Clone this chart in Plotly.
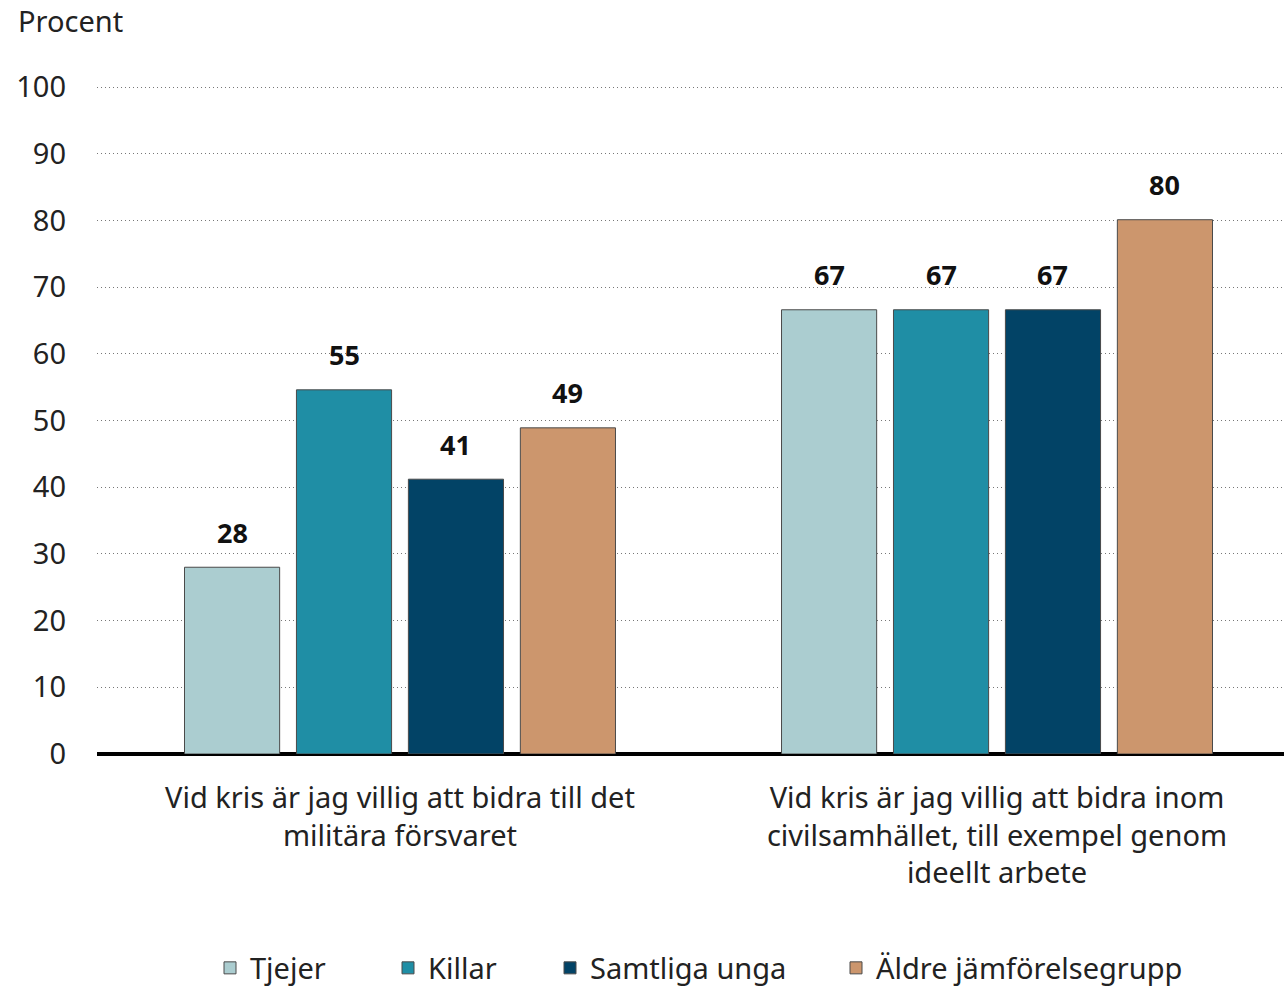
import plotly.graph_objects as go

categories = [
    "Vid kris är jag villig att bidra till det<br>militära försvaret",
    "Vid kris är jag villig att bidra inom<br>civilsamhället, till exempel genom<br>ideellt arbete",
]
series_names = ["Tjejer", "Killar", "Samtliga unga", "Äldre jämförelsegrupp"]
tjejer = [28.0, 66.6]
killar = [54.6, 66.6]
samtliga = [41.2, 66.6]
aldre = [48.9, 80.1]
values = [tjejer, killar, samtliga, aldre]
colors = ["#ABCDD0", "#1F8EA5", "#024366", "#CC966D"]
y_ticks = [0, 10, 20, 30, 40, 50, 60, 70, 80, 90, 100]

FONT = "Noto Sans, Open Sans, sans-serif"
FS = 29

W, H = 1284, 987
L, R, T, B = 97, 0, 85, 233
BARGAP, GROUPGAP = 0.25, 0.15
X_RANGE = [-0.5075, 1.4807]
plot_w = W - L - R
cat_px = plot_w / (X_RANGE[1] - X_RANGE[0])
slot_px = cat_px * (1 - BARGAP) / len(series_names)

legend_ids = ["legend", "legend2", "legend3", "legend4"]
legend_left = [210, 388, 550, 836]

fig = go.Figure()
for i, (name, vals, col) in enumerate(zip(series_names, values, colors)):
    fig.add_trace(go.Bar(
        name=name,
        x=categories,
        y=vals,
        legend=legend_ids[i],
        marker=dict(color=col, line=dict(color="#4a4a4a", width=1)),
        hoverinfo="name+y",
    ))
    for j, v in enumerate(vals):
        fig.add_annotation(
            x=categories[j], y=v, xref="x", yref="y",
            text=f"<b>{v:.0f}</b>", showarrow=False,
            xshift=(i - (len(series_names) - 1) / 2) * slot_px,
            yshift=35, yanchor="middle", xanchor="center",
            font=dict(family=FONT, size=27, color="#111111"),
        )

legend_common = dict(
    orientation="h", xref="container", yref="container", xanchor="left",
    yanchor="middle", y=1 - 968 / H, font=dict(family=FONT, size=FS, color="#222222"),
    itemwidth=30, bgcolor="rgba(0,0,0,0)",
)
layout_legends = {}
for lid, lx in zip(legend_ids, legend_left):
    layout_legends[lid] = dict(legend_common, x=lx / W)

fig.update_layout(
    width=W, height=H,
    margin=dict(l=L, r=R, t=T, b=B, autoexpand=False),
    paper_bgcolor="white", plot_bgcolor="white",
    barmode="group", bargap=BARGAP, bargroupgap=GROUPGAP,
    font=dict(family=FONT, size=FS, color="#222222"),
    title=dict(text="Procent", x=18 / W, xanchor="left", xref="container",
               y=1 - 22 / H, yanchor="middle", yref="container",
               font=dict(family=FONT, size=FS, color="#222222")),
    showlegend=True,
    **layout_legends,
)
fig.update_xaxes(
    type="category",
    range=X_RANGE,
    showgrid=False, showline=False, ticks="",
    tickfont=dict(family=FONT, size=FS, color="#222222"),
    ticklabelstandoff=24,
)
fig.update_yaxes(
    range=[0, 100.3], tickvals=y_ticks,
    showgrid=True, gridcolor="#777777", gridwidth=1, griddash="1px,3px",
    zeroline=True, zerolinecolor="#000000", zerolinewidth=4,
    showline=False, ticks="",
    tickfont=dict(family=FONT, size=FS, color="#222222"),
    ticklabelstandoff=30,
)
fig.write_html("out.html", config={"displayModeBar": False},
               post_script="document.body.style.margin='0';")
